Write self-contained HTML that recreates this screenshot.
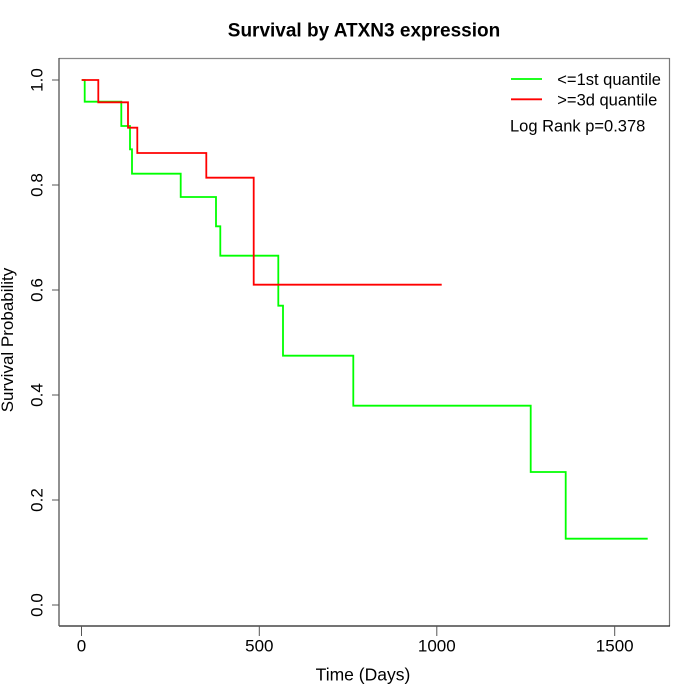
<!DOCTYPE html>
<html><head><meta charset="utf-8"><style>html,body{margin:0;padding:0;background:#fff;}svg{display:block;}</style></head>
<body>
<svg width="700" height="700" viewBox="0 0 700 700" xmlns="http://www.w3.org/2000/svg" font-family="Liberation Sans, Arial, sans-serif">
<rect width="700" height="700" fill="#fff"/>
<text x="364" y="36.5" font-size="19" font-weight="bold" text-anchor="middle" fill="#000">Survival by ATXN3 expression</text>
<!-- box -->
<line x1="59" y1="58.5" x2="669.5" y2="58.5" stroke="#888" stroke-width="1.2"/>
<line x1="669.5" y1="58" x2="669.5" y2="626" stroke="#777" stroke-width="1.2"/>
<line x1="59" y1="626" x2="670" y2="626" stroke="#222" stroke-width="1.3"/>
<line x1="59" y1="58" x2="59" y2="626" stroke="#555" stroke-width="1.3"/>
<!-- y ticks -->
<g stroke="#555" stroke-width="1">
<line x1="52" y1="80" x2="59" y2="80"/>
<line x1="52" y1="185" x2="59" y2="185"/>
<line x1="52" y1="290" x2="59" y2="290"/>
<line x1="52" y1="395" x2="59" y2="395"/>
<line x1="52" y1="500" x2="59" y2="500"/>
<line x1="52" y1="605" x2="59" y2="605"/>
</g>
<g font-size="17" fill="#000" text-anchor="middle">
<text transform="translate(42.3,80) rotate(-90)">1.0</text>
<text transform="translate(42.3,185) rotate(-90)">0.8</text>
<text transform="translate(42.3,290) rotate(-90)">0.6</text>
<text transform="translate(42.3,395) rotate(-90)">0.4</text>
<text transform="translate(42.3,500) rotate(-90)">0.2</text>
<text transform="translate(42.3,605) rotate(-90)">0.0</text>
<text transform="translate(13,340) rotate(-90)">Survival Probability</text>
</g>
<!-- x ticks -->
<g stroke="#555" stroke-width="1">
<line x1="81.5" y1="626" x2="81.5" y2="636"/>
<line x1="259.3" y1="626" x2="259.3" y2="636"/>
<line x1="436.8" y1="626" x2="436.8" y2="636"/>
<line x1="614.7" y1="626" x2="614.7" y2="636"/>
</g>
<g font-size="17" fill="#000" text-anchor="middle">
<text x="81.5" y="651.3">0</text>
<text x="259.3" y="651.3">500</text>
<text x="436.8" y="651.3">1000</text>
<text x="614.7" y="651.3">1500</text>
<text x="363" y="680.5" font-size="17.5">Time (Days)</text>
</g>
<!-- curves -->
<path d="M81.7,80 H84.7 V101.7 H121.3 V126 H130 V149.3 H132 V173.7 H180.7 V197 H216 V226.3 H220.3 V255.7 H278.3 V305.7 H283 V355.7 H353.3 V405.7 H530.7 V472 H565.7 V538.7 H647.7" fill="none" stroke="#00ff00" stroke-width="1.8"/>
<path d="M81.7,80 H98.3 V102.3 H128 V127.7 H137.3 V153 H206.3 V177.7 H253.7 V284.7 H441.7" fill="none" stroke="#ff0000" stroke-width="1.8"/>
<!-- legend -->
<line x1="511" y1="79" x2="542" y2="79" stroke="#00ff00" stroke-width="1.8"/>
<line x1="511" y1="99.3" x2="542" y2="99.3" stroke="#ff0000" stroke-width="1.8"/>
<g font-size="16.5" fill="#000">
<text x="557.3" y="85">&lt;=1st quantile</text>
<text x="557.3" y="105.3">&gt;=3d quantile</text>
<text x="510" y="131.5">Log Rank p=0.378</text>
</g>
</svg>
</body></html>
